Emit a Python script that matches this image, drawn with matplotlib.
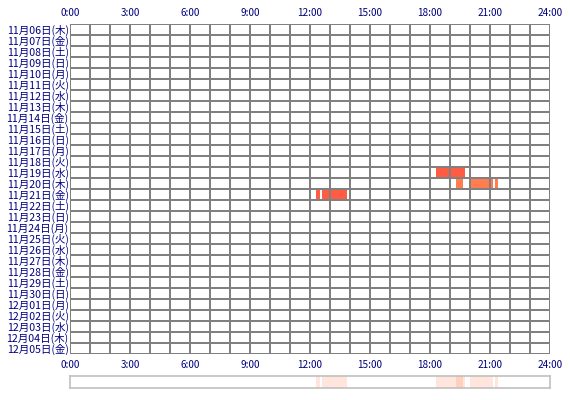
import datetime as dt
import matplotlib
matplotlib.use('Agg')
import matplotlib.pyplot as plt

plt.rcParams['font.family'] = ['Noto Sans CJK JP', 'DejaVu Sans']

# 30 days starting 2025-11-06
start_day = dt.date(2025, 11, 6)
n_days = 30
weekdays = ['月', '火', '水', '木', '金', '土', '日']
days = [start_day + dt.timedelta(days=i) for i in range(n_days)]
day_labels = ['%02d月%02d日(%s)' % (d.month, d.day, weekdays[d.weekday()]) for d in days]

# activity segments: day label, start hour, end hour
seg_days = ['11月19日', '11月20日', '11月20日', '11月20日', '11月21日', '11月21日']
seg_start = [18.3, 19.3, 20.0, 21.25, 12.3, 12.6]
seg_end = [19.75, 19.65, 21.15, 21.4, 12.5, 13.85]
seg_colors = ['#ff5c43', '#ff7d4e', '#ff7d4e', '#ff7d4e', '#ff5c43', '#ff5c43']

hour_ticks = [0, 3, 6, 9, 12, 15, 18, 21, 24]
hour_labels = ['%d:00' % h for h in hour_ticks]

fig = plt.figure(figsize=(5.7, 4.0), dpi=100)
ax = fig.add_axes([70 / 570, 1 - 354 / 400, 480 / 570, 330 / 400])

keys = ['%02d月%02d日' % (d.month, d.day) for d in days]
for name, s, e, c in zip(seg_days, seg_start, seg_end, seg_colors):
    row = keys.index(name)
    ax.barh(row, e - s, left=s, height=1.0, color=c, linewidth=0, zorder=1)

ax.set_xlim(0, 24)
ax.set_ylim(n_days - 0.5, -0.5)
for h in range(25):
    ax.axvline(h, color='#808080', lw=1.4, antialiased=False, zorder=2)
for r in range(n_days + 1):
    ax.axhline(r - 0.5, color='#808080', lw=1.4, antialiased=False, zorder=2)
for s in ax.spines.values():
    s.set_visible(False)

ax.set_yticks(range(n_days))
ax.set_yticklabels(day_labels, fontsize=7.6, color='#000080')
ax.set_xticks(hour_ticks)
ax.set_xticklabels(hour_labels, fontsize=7.2, color='#000080')
ax.tick_params(axis='x', which='both', length=0, pad=4, top=True, labeltop=True)
ax.tick_params(axis='y', length=0, pad=1)

# summary strip
ax2 = fig.add_axes([70 / 570, 1 - 388 / 400, 480 / 570, 12 / 400])
for s, e in zip(seg_start, seg_end):
    ax2.axvspan(s, e, color='#ff7d4e', alpha=0.2, lw=0)
ax2.set_xlim(0, 24)
ax2.set_ylim(0, 1)
ax2.set_xticks([])
ax2.set_yticks([])
for s in ax2.spines.values():
    s.set_color('#c0c0c0')
    s.set_linewidth(1.2)

fig.savefig('out.png', dpi=100)
